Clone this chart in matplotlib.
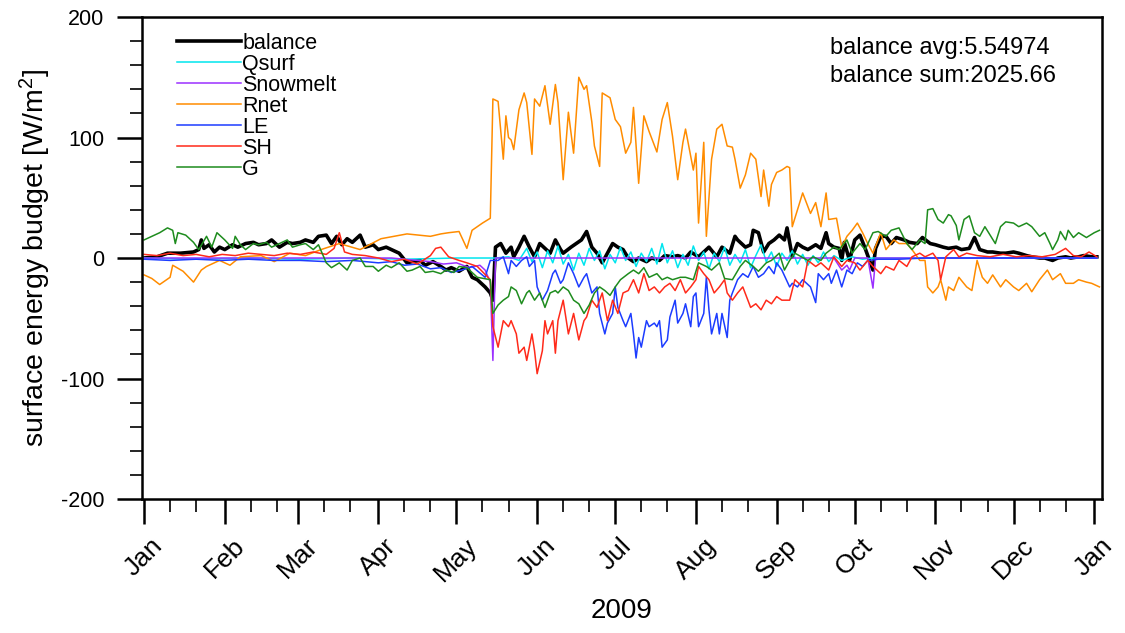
import matplotlib
matplotlib.use("Agg")
import matplotlib.pyplot as plt
from matplotlib.ticker import FixedLocator, MultipleLocator

plt.rcParams['font.family'] = ['Liberation Sans', 'DejaVu Sans']
plt.rcParams['mathtext.default'] = 'regular'
plt.rcParams['axes.unicode_minus'] = False

# day of year 2009 (0 = Jan 1) and daily values [W/m2]
bal_day = [0, 5, 9, 14, 19, 21, 22, 23, 25, 27, 29, 31, 34, 36, 39, 42, 44, 47, 49, 52, 55, 57, 60, 62, 65, 67,
           70, 72, 74, 76, 78, 80, 83, 85, 88, 90, 93, 95, 98, 101, 103, 106, 108, 111, 114, 116, 118, 121, 124,
           126, 128, 131, 133, 134, 135, 137, 139, 141, 142, 144, 146, 148, 150, 152, 154, 156, 158, 160, 161,
           164, 166, 168, 170, 172, 174, 176, 178, 180, 182, 184, 186, 188, 190, 193, 195, 198, 200, 203, 205,
           208, 210, 213, 215, 217, 220, 222, 225, 227, 228, 231, 233, 234, 236, 238, 240, 242, 244, 246, 247,
           249, 251, 253, 255, 258, 260, 262, 263, 265, 267, 268, 269, 271, 273, 275, 277, 280, 281, 283, 285,
           287, 289, 292, 294, 297, 299, 302, 304, 307, 309, 312, 314, 317, 319, 321, 324, 326, 329, 331, 334,
           336, 339, 341, 344, 346, 349, 351, 354, 356, 359, 361, 364, 366]
bal_val = [0, 1, 4, 4, 5, 7, 15, 8, 11, 5, 9, 7, 11, 9, 12, 13, 11, 12, 15, 9, 13, 12, 13, 15, 13, 18,
           19, 12, 18, 11, 16, 13, 19, 9, 11, 7, 9, 7, 4, -4, -3, -2, -6, -3, -7, -10, -8, -11, -7,
           -16, -18, -24, -29, -35, 9, 12, 4, 9, 1, 9, 18, 9, 1, 12, 8, 4, 15, 7, 4,
           9, 12, 15, 22, 9, 4, -4, 4, 12, 9, 7, 0, -3, 0, -3, 0, -2, 2, 1, 2,
           0, 5, 1, 5, 9, 1, 9, 4, 18, 15, 9, 11, 23, 21, 5, 12, 15, 19, 15, 25,
           1, 12, 9, 7, 11, 8, 21, 12, 9, 8, -2, 13, -2, 15, 19, 8, -10, 8, 18, 18,
           12, 17, 15, 13, 12, 17, 12, 11, 9, 8, 9, 7, 8, 17, 7, 5, 5, 4, 4, 5,
           4, 2, 1, 0, 0, -2, 0, 1, 0, 1, 2, 1, 1]

qs_day = [0, 20, 40, 60, 80, 100, 120, 133, 135, 140, 144, 147, 149, 151, 153, 155, 157, 159, 161, 163, 165,
          167, 169, 171, 173, 175, 177, 179, 181, 183, 185, 187, 189, 191, 193, 195, 197, 199, 201, 203, 205,
          207, 209, 211, 213, 215, 217, 219, 221, 223, 225, 227, 229, 231, 233, 235, 237, 239, 241, 243, 245,
          247, 249, 251, 253, 255, 257, 259, 261, 263, 265, 268, 272, 276, 280, 300, 366]
qs_val = [0, -1, 0, -1, 0, -1, 0, 0, 0, 1, -2, 8, -3, 5, -8, 6, -4, 10, -5, 3, -10,
          4, -6, 8, -2, 6, -9, 3, -4, 9, -2, 5, -7, 4, -3, 8, -5, 12, -4, 6, -8,
          3, -6, 10, -2, 5, -9, 4, -3, 9, -6, 3, -4, 7, -8, 2, 11, -3, 5, -7, 4,
          -2, 6, -5, 3, -6, 2, -4, 5, -3, 2, -2, 1, -1, 0, 0, 0]

sm_day = [0, 95, 100, 105, 110, 115, 120, 125, 129, 131, 133, 134, 135, 265, 268, 270, 271, 273, 278, 280, 281, 366]
sm_val = [0, 0, -1, -2, -3, -5, -4, -8, -6, -10, -20, -85, 0, 0, -10, -6, -10, 0, 0, -25, 0, 0]

rn_day = [0, 3, 6, 10, 11, 15, 19, 22, 24, 29, 33, 37, 45, 50, 56, 62, 68, 75, 83, 91, 101, 110, 114, 117,
          121, 124, 126, 130, 133, 134, 136, 138, 139, 140, 141, 142, 144, 146, 147, 149, 150, 152, 154, 156,
          158, 159, 161, 163, 165, 167, 169, 170, 172, 173, 175, 176, 179, 181, 183, 185, 187, 188, 190, 192,
          194, 197, 199, 201, 203, 205, 207, 208, 211, 212, 213, 215, 216, 218, 220, 222, 224, 226, 227, 229,
          231, 233, 235, 237, 238, 240, 241, 243, 245, 247, 248, 249, 251, 253, 256, 258, 260, 262, 263, 266,
          268, 270, 272, 274, 276, 278, 280, 283, 285, 288, 290, 293, 295, 298, 300, 301, 303, 305, 306, 308,
          309, 311, 313, 316, 318, 320, 322, 324, 326, 329, 331, 334, 336, 339, 341, 344, 347, 349, 352, 354,
          357, 359, 362, 364, 367]
rn_val = [-14, -17, -22, -16, -6, -11, -20, -10, -7, -2, -6, 1, 2, -3, 4, 2, 7, 12, 7, 16, 20, 18, 20, 21,
          22, 8, 23, 29, 33, 132, 130, 82, 118, 100, 98, 90, 123, 137, 129, 86, 132, 126, 143, 111,
          144, 129, 65, 121, 87, 150, 140, 143, 113, 93, 76, 137, 133, 115, 109, 87, 96, 125, 62, 118,
          105, 88, 115, 129, 101, 65, 96, 107, 73, 87, 29, 96, 18, 82, 107, 111, 93, 92, 82, 58,
          69, 87, 82, 51, 73, 43, 61, 71, 73, 76, 75, 26, 40, 54, 37, 46, 26, 54, 32, 33,
          9, 18, 23, 29, 21, 12, 4, 21, 7, 15, 12, 12, 7, -2, -2, -24, -29, -24, -18, -35,
          -24, -27, -16, -24, -27, -2, -16, -21, -14, -24, -18, -24, -27, -21, -28, -18, -10, -18, -13, -21,
          -21, -18, -20, -21, -24]

le_day = [0, 10, 20, 30, 40, 50, 60, 70, 80, 90, 95, 100, 105, 110, 114, 118, 122, 126, 131, 133, 136, 138,
          140, 141, 143, 145, 147, 148, 150, 151, 153, 155, 157, 158, 160, 161, 163, 165, 167, 169, 170, 172,
          174, 175, 177, 178, 180, 181, 182, 184, 185, 187, 188, 189, 190, 191, 193, 194, 196, 197, 198, 199,
          201, 202, 204, 205, 207, 208, 210, 211, 212, 213, 215, 216, 217, 218, 220, 221, 222, 224, 225, 226,
          228, 230, 232, 234, 236, 238, 240, 242, 243, 245, 248, 249, 251, 253, 256, 258, 259, 261, 263, 264,
          266, 268, 270, 272, 274, 276, 278, 282, 290, 300, 320, 340, 366]
le_val = [-1, -2, -1, -2, -1, -2, -2, -3, -2, -4, -3, -6, -5, -9, -8, -12, -10, -7, -16, -2, -2, 1,
          -13, -2, -7, -2, 1, -7, -2, -24, -35, -27, -13, -10, -21, -18, -4, -13, -24, -16, -13, -29,
          -24, -46, -63, -54, -46, -24, -41, -52, -57, -46, -63, -83, -66, -74, -52, -57, -54, -57, -52, -74,
          -68, -49, -35, -54, -46, -38, -57, -32, -29, -57, -46, -16, -43, -63, -46, -63, -46, -66, -35, -29,
          -18, -13, -16, -7, -16, -13, -7, -13, -4, -10, -24, -21, -24, -18, -24, -37, -13, -18, -13, -21,
          -10, -24, -10, -13, -4, -7, -2, -1, -1, 0, 0, 0, 0]

sh_day = [0, 5, 10, 15, 20, 25, 30, 35, 40, 45, 50, 55, 60, 65, 70, 73, 75, 77, 80, 85, 90, 95, 100, 105,
          110, 112, 114, 117, 121, 124, 128, 133, 134, 136, 138, 140, 141, 143, 144, 146, 147, 149, 150, 151,
          153, 154, 155, 157, 158, 159, 161, 163, 165, 167, 169, 170, 172, 174, 176, 178, 180, 182, 184, 186,
          188, 190, 192, 194, 196, 198, 200, 202, 204, 206, 208, 210, 212, 213, 215, 217, 219, 221, 223, 224,
          226, 228, 230, 233, 235, 237, 239, 241, 243, 245, 248, 250, 253, 255, 258, 260, 263, 265, 268, 270,
          273, 275, 278, 280, 283, 285, 288, 290, 293, 295, 298, 300, 303, 305, 306, 308, 311, 313, 316, 320,
          325, 330, 335, 340, 345, 350, 354, 357, 360, 363, 366]
sh_val = [3, 2, 4, 2, 3, 1, 3, 2, 4, 3, 2, 4, 3, 5, 3, 8, 21, 5, 3, 2, 0, -3, -1, -5,
          2, 8, 9, 1, -2, -4, -7, -18, -57, -74, -52, -57, -52, -63, -79, -74, -85, -63, -77, -96,
          -77, -52, -63, -52, -79, -52, -35, -63, -46, -68, -52, -49, -35, -41, -29, -52, -35, -46, -29, -27,
          -18, -29, -13, -27, -24, -29, -24, -21, -27, -18, -29, -24, -18, -7, -13, -18, -29, -24, -18, -29,
          -35, -29, -24, -41, -38, -43, -35, -38, -32, -35, -35, -18, -24, -2, -7, -4, -10, 1, -7, -2,
          -4, -10, -2, -7, -13, -7, -10, -2, -7, 1, 4, 1, 4, -2, -18, 1, 7, 1, 4, 2,
          1, 3, 1, 2, 1, 3, 8, 2, 1, 5, 1]

g_day = [0, 2, 6, 9, 11, 12, 13, 16, 19, 21, 24, 26, 28, 31, 34, 35, 37, 39, 42, 44, 47, 49, 52, 55, 57,
         60, 62, 65, 67, 70, 72, 75, 78, 80, 83, 85, 88, 90, 93, 95, 98, 101, 103, 106, 108, 111, 114, 116,
         119, 121, 124, 128, 133, 134, 136, 138, 140, 141, 143, 145, 147, 148, 150, 152, 154, 156, 158, 159,
         161, 163, 165, 167, 169, 171, 173, 175, 177, 179, 181, 183, 186, 188, 190, 192, 194, 197, 199, 201,
         203, 206, 208, 211, 213, 216, 218, 221, 223, 226, 229, 231, 234, 236, 239, 241, 244, 246, 248, 250,
         255, 257, 260, 262, 265, 267, 270, 272, 275, 277, 280, 282, 285, 287, 290, 293, 295, 298, 300, 301,
         303, 305, 307, 309, 310, 312, 313, 315, 317, 319, 321, 323, 325, 327, 329, 331, 334, 336, 339, 341,
         344, 346, 348, 349, 351, 352, 354, 355, 357, 359, 362, 365, 367]
g_val = [15, 17, 21, 25, 23, 12, 21, 19, 13, 7, 18, 9, 21, 15, 8, 18, 11, 7, 12, 11, 13, 9, 12, 15, 9,
         11, 12, 7, 11, -4, -8, -4, -10, -2, 0, -7, -7, -11, -6, -8, -4, -11, -10, -7, -12, -11, -13, -10,
         -12, -7, -8, -16, -18, -46, -39, -35, -32, -24, -27, -38, -29, -27, -35, -29, -41, -29, -27, -29,
         -24, -27, -35, -38, -46, -39, -29, -24, -27, -31, -24, -18, -13, -10, -13, -8, -16, -13, -18, -16,
         -18, -16, -16, -18, -4, -7, -10, -4, -17, -18, -7, -2, -7, -11, -4, -2, 4, -10, -2, 4,
         -2, 1, -2, 4, 9, 7, 15, 4, 12, 7, 21, 22, 18, 23, 25, 12, 7, 15, 12, 40,
         41, 32, 29, 36, 35, 27, 15, 32, 35, 21, 18, 26, 19, 12, 26, 30, 29, 26, 29, 26,
         18, 21, 12, 7, 15, 22, 15, 23, 17, 21, 17, 21, 23]

balance_avg = 5.54974
balance_sum = 2025.66

month_start = [0, 31, 59, 90, 120, 151, 181, 212, 243, 273, 304, 334, 365]
month_names = ['Jan', 'Feb', 'Mar', 'Apr', 'May', 'Jun', 'Jul', 'Aug', 'Sep', 'Oct', 'Nov', 'Dec', 'Jan']

fig = plt.figure(figsize=(11.25, 6.33), dpi=100)
ax = fig.add_axes([0.1262, 0.2117, 0.8534, 0.7614])

ax.plot(bal_day, bal_val, color='black', lw=2.6, label='balance')
ax.plot(qs_day, qs_val, color='#00e5ee', lw=1.1, label='Qsurf')
ax.plot(sm_day, sm_val, color='#9b30ff', lw=1.1, label='Snowmelt')
ax.plot(rn_day, rn_val, color='#ff8c00', lw=1.1, label='Rnet')
ax.plot(le_day, le_val, color='#1c3cff', lw=1.1, label='LE')
ax.plot(sh_day, sh_val, color='#ff2a1a', lw=1.1, label='SH')
ax.plot(g_day, g_val, color='#1e8c1e', lw=1.1, label='G')

ax.set_xlim(-0.8, 368)
ax.set_ylim(-200, 200)

for s in ax.spines.values():
    s.set_linewidth(1.8)

ax.yaxis.set_major_locator(MultipleLocator(100))
ax.yaxis.set_minor_locator(MultipleLocator(20))
ax.xaxis.set_major_locator(FixedLocator(month_start))
minor_x = [d + k for d in month_start[:-1] for k in (10, 20)]
ax.xaxis.set_minor_locator(FixedLocator(minor_x))
ax.set_xticklabels(month_names, rotation=45, ha='center')
ax.tick_params(axis='both', which='major', direction='out', length=18, width=1.8)
ax.tick_params(axis='both', which='minor', direction='out', length=9, width=1.2)
ax.tick_params(axis='y', which='major', pad=9, labelsize=15.5)
ax.tick_params(axis='x', which='major', pad=7, labelsize=19)

ax.set_ylabel('surface energy budget [W/m$^2$]', fontsize=20.5, labelpad=6)
ax.set_xlabel('2009', fontsize=20, labelpad=9)

leg = ax.legend(loc='upper left', bbox_to_anchor=(0.027, 0.985), frameon=False, fontsize=15.5,
                handlelength=3.0, handletextpad=0.05, labelspacing=0.0, borderaxespad=0)

ax.text(0.717, 0.958, 'balance avg:%.5f\nbalance sum:%.2f' % (balance_avg, balance_sum),
        transform=ax.transAxes, ha='left', va='top', fontsize=17, linespacing=1.35)

fig.savefig('out.png', dpi=100)
